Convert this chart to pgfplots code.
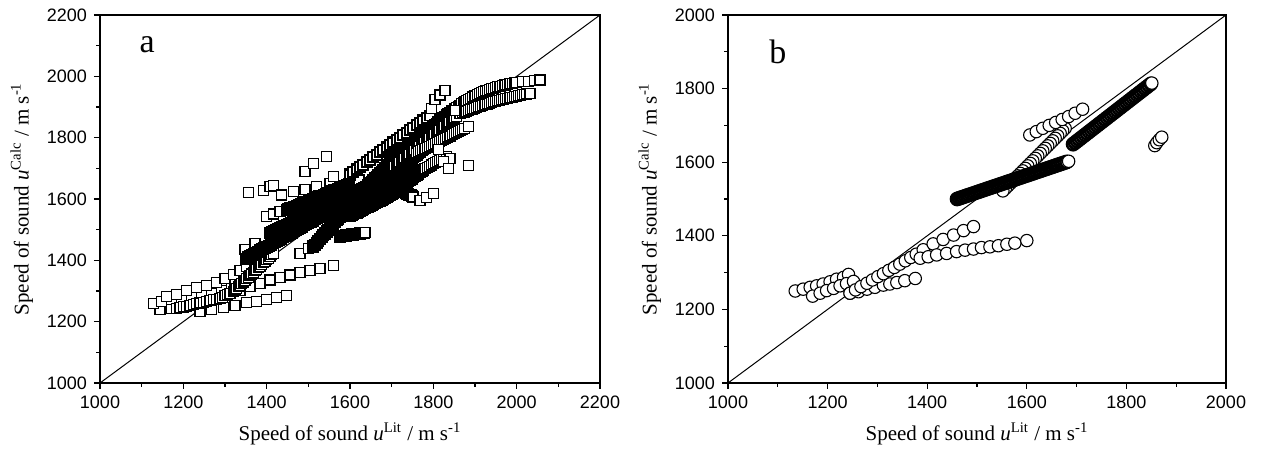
\documentclass[border=0pt]{standalone}
\usepackage{fontspec}
\setmainfont{Liberation Serif}
\newfontfamily\arial{Liberation Sans}
\usepackage{pgfplots}
\pgfplotsset{compat=1.18}

\pgfplotsset{
  panel/.style={
    scale only axis, height=184pt,
    axis line style={line width=0.7pt},
    tick pos=left, tick align=outside,
    major tick length=3pt, minor tick length=1.8pt,
    tick style={line width=0.6pt, black},
    minor x tick num=1, minor y tick num=1,
    /pgf/number format/assume math mode=true,
    /pgf/number format/1000 sep={},
    ticklabel style={font=\arial\fontsize{9}{10}\selectfont},
    label style={font=\fontsize{10.5}{12}\selectfont},
  },
  sq/.style={only marks, mark=square*, mark size=2.5pt,
    mark options={fill=white, draw=black, line width=0.55pt}},
  sqd/.style={sq, mark options={fill=white, draw=black, line width=1.1pt}},
  ci/.style={only marks, mark=*, mark size=3.1pt,
    mark options={fill=white, draw=black, line width=0.55pt}},
  cid/.style={ci, mark options={fill=white, draw=black, line width=1.2pt}},
}

\begin{document}
\begin{tikzpicture}

% ---------------- panel a ----------------
\begin{axis}[panel, at={(0,0)}, width=250pt,
  xmin=1000, xmax=2200, ymin=1000, ymax=2200,
  xtick={1000,1200,...,2200}, ytick={1000,1200,...,2200},
  xlabel={Speed of sound \textit{u}\textsuperscript{Lit} / m s\textsuperscript{-1}},
  ylabel={Speed of sound \textit{u}\textsuperscript{Calc} / m s\textsuperscript{-1}}]

\addplot[black, line width=0.5pt] coordinates {(1000,1000) (2200,2200)};

% lower-left rows
\addplot[sq] coordinates {(1144,1240) (1172,1243) (1200,1247) (1240,1233) (1268,1240) (1296,1247) (1324,1254) (1352,1262) (1376,1267) (1400,1273) (1424,1278) (1448,1286)};
\addplot[sq] coordinates {(1128,1258) (1148,1265) (1172,1273) (1196,1276) (1220,1282) (1244,1287) (1268,1292) (1292,1301) (1316,1308)};
\addplot[sq] coordinates {(1160,1282) (1184,1290) (1208,1301) (1232,1310) (1256,1318) (1280,1329) (1300,1340) (1320,1353) (1336,1366) (1352,1379)};
\addplot[sq] coordinates {(1312,1292) (1336,1303) (1360,1314) (1384,1325) (1408,1336) (1432,1345) (1456,1352) (1480,1360) (1504,1366) (1528,1374) (1560,1383)};

% S-shaped band
\addplot[sq] coordinates {(1184,1243) (1192,1245.5) (1200,1248.1) (1208,1250.6) (1216,1253.2) (1224,1255.7) (1232,1258.2) (1240,1260.8) (1248,1263.3) (1256,1265.8) (1264,1268.4) (1272,1270.9) (1280,1273.5) (1288,1276) (1294,1280.1) (1300,1284.3) (1306,1288.4) (1312,1292.5) (1320,1298) (1324,1303.2) (1328,1308.4) (1332,1313.6) (1336,1318.8) (1340,1324.0) (1344,1329.3) (1348,1334.5) (1352,1339.7) (1356,1344.9) (1360,1350.1) (1364,1355.3) (1368,1360.5) (1372,1365.7) (1376,1370.9) (1380,1376.1) (1384,1381.3) (1388,1386.6) (1392,1391.8) (1396,1397.0) (1400,1402.2) (1404,1407.4) (1408,1412.6) (1412,1417.8) (1416,1423)};

% scattered, upper left of centre
\addplot[sq] coordinates {(1348,1434) (1372,1456) (1480,1422) (1500,1439) (1356,1621) (1392,1629) (1408,1640) (1416,1645) (1436,1613) (1464,1624) (1492,1632) (1520,1640) (1552,1651) (1560,1673) (1492,1689) (1512,1716) (1544,1738) (1400,1542) (1416,1551) (1432,1559) (1448,1564) (1596,1613) (1616,1629)};

% upper dense band on the left
\addplot[sqd] coordinates {(1452,1566.0) (1457,1568.8) (1462,1571.6) (1467,1574.4) (1472,1577.2) (1477,1580.0) (1482,1582.8) (1487,1585.6) (1492,1588.4) (1497,1591.2) (1502,1594.0) (1507,1596.8) (1512,1599.6) (1517,1602.4) (1522,1605.2) (1527,1608.0) (1532,1610.8) (1537,1613.6) (1542,1616.4) (1547,1619.2) (1552,1622.0) (1557,1624.8) (1562,1627.6) (1567,1630.4) (1572,1633.2) (1577,1636.0) (1582,1638.8) (1587,1641.6) (1592,1644.4) (1597,1647.2) (1602,1650.0) (1607,1652.8) (1612,1655.6) (1617,1658.4) (1622,1661.2)};

% dense band 1
\addplot[sqd] coordinates {(1350,1405.0) (1355,1408.9) (1360,1412.8) (1365,1416.7) (1370,1420.6) (1375,1424.5) (1380,1428.4) (1385,1432.3) (1390,1436.2) (1395,1440.1) (1400,1444.0) (1405,1447.9) (1410,1451.8) (1415,1455.7) (1420,1459.6) (1425,1463.5) (1430,1467.4) (1435,1471.3) (1440,1475.2) (1445,1479.1) (1450,1483.0) (1455,1486.9) (1460,1490.8) (1465,1494.7) (1470,1498.6) (1475,1502.5) (1480,1506.4) (1485,1510.3) (1490,1514.2) (1495,1518.1) (1500,1522.0) (1505,1525.9) (1510,1529.8) (1515,1533.7) (1520,1537.6) (1525,1541.5) (1530,1545.4) (1535,1549.3) (1540,1553.2) (1545,1557.1) (1550,1561.0) (1555,1564.9) (1560,1568.8) (1565,1572.7) (1570,1576.6) (1575,1580.5) (1580,1584.4) (1585,1588.3) (1590,1592.2) (1595,1596.1) (1600,1600.0)};

% dense band 2
\addplot[sqd] coordinates {(1408,1490.0) (1413,1493.2) (1418,1496.5) (1423,1499.7) (1428,1502.9) (1433,1506.2) (1438,1509.4) (1443,1512.6) (1448,1515.8) (1453,1519.1) (1458,1522.3) (1463,1525.5) (1468,1528.8) (1473,1532.0) (1478,1535.2) (1483,1538.5) (1488,1541.7) (1493,1544.9) (1498,1548.1) (1503,1551.4) (1508,1554.6) (1513,1557.8) (1518,1561.1) (1523,1564.3) (1528,1567.5) (1533,1570.8) (1538,1574.0) (1543,1577.2) (1548,1580.4) (1553,1583.7) (1558,1586.9) (1563,1590.1) (1568,1593.4) (1573,1596.6) (1578,1599.8) (1583,1603.1) (1588,1606.3) (1593,1609.5) (1598,1612.7) (1603,1616.0) (1608,1619.2) (1613,1622.4) (1618,1625.7) (1623,1628.9) (1628,1632.1) (1633,1635.4) (1638,1638.6)};

% short flat band
\addplot[sqd] coordinates {(1576,1478) (1579,1478.6) (1582,1479.2) (1585,1479.8) (1588,1480.4) (1591,1481) (1594,1481.6) (1597,1482.2) (1600,1482.8) (1603,1483.4) (1606,1484) (1609,1484.6) (1612,1485.2) (1615,1485.8) (1618,1486.4) (1621,1487) (1624,1487.6) (1627,1488.2) (1630,1488.8) (1633,1489.4)};
\addplot[sq] coordinates {(1636,1490)};

% upper edge of main band
\addplot[sqd] coordinates {(1600,1680) (1608,1688) (1616,1696) (1624,1704) (1632,1712) (1640,1720) (1648,1728) (1656,1736) (1664,1744) (1672,1752) (1680,1760) (1688,1768) (1696,1776) (1704,1784) (1712,1792) (1720,1800) (1728,1808) (1736,1816) (1744,1824) (1752,1832) (1760,1840) (1768,1848) (1776,1856) (1784,1864)};
\addplot[sq] coordinates {(1792,1872)};

% band between main band and lower right band
\addplot[sqd] coordinates {(1640,1600) (1644,1605) (1648,1610) (1652,1615) (1656,1620) (1660,1625) (1664,1630) (1668,1635) (1672,1640) (1676,1645) (1680,1650) (1684,1655) (1688,1660) (1692,1665) (1696,1670) (1700,1675) (1704,1680) (1708,1685) (1712,1690) (1716,1695) (1720,1700)
(1724,1704.5) (1728,1709) (1732,1713.5) (1736,1718) (1740,1722.5) (1744,1727) (1748,1731.5) (1752,1736) (1756,1740.5) (1760,1745) (1764,1749.5) (1768,1754) (1772,1758.5) (1776,1763) (1780,1767.5) (1784,1772) (1788,1776.5) (1792,1781) (1796,1785.5) (1800,1790)
(1804,1794) (1808,1798) (1812,1802) (1816,1806) (1820,1810) (1824,1814) (1828,1818) (1832,1822) (1836,1826) (1840,1830) (1844,1834) (1848,1838)};

% main steep band
\addplot[sqd] coordinates {(1512,1445.0) (1516,1451.1) (1520,1457.2) (1524,1463.3) (1528,1469.4) (1532,1475.5) (1536,1481.6) (1540,1487.7) (1544,1493.8) (1548,1499.8) (1552,1505.9) (1556,1512.0) (1560,1518.1) (1564,1524.2) (1568,1530.3) (1572,1536.4) (1576,1542.5) (1580,1548.6) (1584,1554.7) (1588,1560.8) (1592,1566.9) (1596,1573.0) (1600,1579.1) (1604,1585.2) (1608,1591.3) (1612,1597.4) (1616,1603.4) (1620,1609.5) (1624,1615.6) (1628,1621.7) (1632,1627.8) (1636,1633.9) (1640,1640.0)
(1644,1645.5) (1648,1650.9) (1652,1656.4) (1656,1661.8) (1660,1667.3) (1664,1672.7) (1668,1678.2) (1672,1683.6) (1676,1689.1) (1680,1694.5) (1684,1700.0) (1688,1705.4) (1692,1710.9) (1696,1716.3) (1700,1721.8) (1704,1727.2) (1708,1732.7) (1712,1738.1) (1716,1743.6) (1720,1749.0)
(1724,1753.4) (1728,1757.7) (1732,1762.1) (1736,1766.4) (1740,1770.8) (1744,1775.1) (1748,1779.5) (1752,1783.8) (1756,1788.2) (1760,1792.5) (1764,1796.9) (1768,1801.2) (1772,1805.6) (1776,1809.9) (1780,1814.3) (1784,1818.6) (1788,1823.0) (1792,1827.3) (1796,1831.7) (1800,1836.0)
(1804,1840.5) (1808,1845.0) (1812,1849.5) (1816,1854.0) (1820,1858.5) (1824,1863.0) (1828,1867.5) (1832,1872.0) (1836,1876.5) (1840,1881.0) (1844,1885.5)};
% its upper arc
\addplot[sq] coordinates {(1848,1890.0) (1852,1894) (1856,1898) (1860,1902) (1864,1906) (1868,1910) (1872,1914) (1876,1918) (1880,1922)
(1885,1925.5) (1890,1929) (1895,1932.5) (1900,1936) (1905,1939.5) (1910,1943) (1915,1946.5) (1920,1950)
(1925,1952.3) (1930,1954.5) (1935,1956.8) (1940,1959) (1945,1961.3) (1950,1963.5) (1955,1965.8) (1960,1968)
(1966,1969.8) (1972,1971.6) (1978,1973.4) (1984,1975.2) (1990,1977) (1996,1978.8) (2000,1980)
(2014,1982) (2028,1984) (2042,1986) (2056,1988)};

% lower arc
\addplot[sqd] coordinates {(1700,1700) (1706,1706.5) (1712,1713.1) (1718,1719.6) (1724,1726.2) (1730,1732.7) (1736,1739.3) (1742,1745.8) (1748,1752.4) (1754,1758.9) (1760,1765.5) (1766,1772.0) (1772,1778.6) (1778,1785.1) (1784,1791.7) (1790,1798.2) (1796,1804.8) (1802,1811.3) (1808,1817.9) (1814,1824.4) (1820,1831.0) (1826,1837.5) (1832,1844.1) (1838,1850.6) (1844,1857.2) (1850,1863.7)};
\addplot[sq] coordinates {(1856,1870.3) (1864,1879)
(1869,1881.4) (1874,1883.8) (1879,1886.1) (1884,1888.5) (1889,1890.9) (1894,1893.3) (1899,1895.6) (1904,1898) (1909,1900.4) (1914,1902.8) (1919,1905.1) (1924,1907.5) (1929,1909.9) (1934,1912.3) (1939,1914.6) (1944,1917)
(1949,1918.6) (1954,1920.2) (1959,1921.8) (1964,1923.4) (1969,1925) (1974,1926.5) (1979,1928.1) (1984,1929.7) (1989,1931.3) (1994,1932.9) (1999,1934.5) (2004,1936.1) (2009,1937.7) (2014,1939.3) (2019,1940.9) (2024,1942.5) (2032,1945)};

% lower right band
\addplot[sqd] coordinates {(1600,1545.0) (1604,1547.8) (1608,1550.6) (1612,1553.4) (1616,1556.2) (1620,1558.9) (1624,1561.7) (1628,1564.5) (1632,1567.3) (1636,1570.1) (1640,1572.9) (1644,1575.7) (1648,1578.5) (1652,1581.3) (1656,1584.1) (1660,1586.9) (1664,1589.7) (1668,1592.4) (1672,1595.2) (1676,1598.0) (1680,1600.8) (1684,1603.6) (1688,1606.4) (1692,1609.2) (1696,1612.0)
(1700,1616.2) (1704,1620.4) (1708,1624.6) (1712,1628.8) (1716,1633.0) (1720,1637.1) (1724,1641.3) (1728,1645.5) (1732,1649.7) (1736,1653.9) (1740,1658.1) (1744,1662.3) (1748,1666.5) (1752,1670.7) (1756,1674.9) (1760,1679.0) (1764,1683.2) (1768,1687.4) (1772,1691.6) (1776,1695.8)};
\addplot[sq] coordinates {(1780,1700.0) (1785,1703.7) (1790,1707.3) (1795,1711.0) (1800,1714.6) (1805,1718.3) (1810,1721.9) (1815,1725.6) (1820,1729.2) (1825,1732.9) (1832,1738)};

% middle arc
\addplot[sq] coordinates {(1760,1750) (1765,1753.5) (1770,1756.9) (1775,1760.4) (1780,1763.9) (1785,1767.4) (1790,1770.8) (1795,1774.3) (1800,1777.8) (1805,1781.2) (1810,1784.7) (1815,1788.2) (1820,1791.6) (1825,1795.1) (1830,1798.6) (1835,1802.0) (1840,1805.5) (1845,1809.0) (1850,1812.4) (1855,1815.9) (1860,1819.4) (1865,1822.8) (1870,1826.3) (1875,1829.8) (1884,1836)};

% small cluster and scattered points on the right
\addplot[sqd] coordinates {(1728,1625) (1731,1623) (1734,1621) (1737,1618) (1740,1616) (1743,1614) (1746,1612) (1749,1609) (1752,1607)};
\addplot[sq] coordinates {(1768,1595) (1784,1605) (1800,1617) (1796,1896) (1804,1923) (1816,1939) (1828,1955) (1852,1890) (1812,1760) (1840,1733) (1824,1722) (1836,1700) (1884,1708)};

\node[font=\fontsize{17}{17}\selectfont] at (axis cs:1113,2102) {a};
\end{axis}

% ---------------- panel b ----------------
\begin{axis}[panel, at={(314pt,0)}, width=249pt,
  xmin=1000, xmax=2000, ymin=1000, ymax=2000,
  xtick={1000,1200,...,2000}, ytick={1000,1200,...,2000},
  xlabel={Speed of sound \textit{u}\textsuperscript{Lit} / m s\textsuperscript{-1}},
  ylabel={Speed of sound \textit{u}\textsuperscript{Calc} / m s\textsuperscript{-1}}]

\addplot[black, line width=0.5pt] coordinates {(1000,1000) (2000,2000)};

\addplot[ci] coordinates {(1135,1250) (1151,1255) (1165,1260) (1178,1264) (1191,1269) (1205,1275) (1218,1282) (1232,1287) (1242,1295)};
\addplot[ci] coordinates {(1170,1236) (1185,1244) (1198,1251) (1212,1257) (1225,1264) (1238,1270) (1252,1276)};
\addplot[ci] coordinates {(1245,1244) (1262,1248) (1279,1255) (1295,1260) (1312,1266) (1325,1269) (1339,1273) (1355,1278) (1376,1284)};
\addplot[ci] coordinates {(1245,1244) (1256,1253) (1267,1262) (1279,1271) (1290,1280) (1301,1289) (1312,1297) (1323,1306) (1334,1314) (1345,1323) (1356,1332) (1367,1341) (1378,1350) (1392,1362) (1412,1378) (1432,1390) (1453,1402) (1473,1414) (1493,1425)};
\addplot[ci] coordinates {(1386,1339) (1402,1343) (1419,1348) (1439,1352) (1459,1357) (1476,1361) (1493,1364) (1509,1368) (1526,1370) (1543,1373) (1560,1377) (1576,1380) (1600,1387)};

% steep series
\addplot[ci] coordinates {(1677,1692.0) (1672,1685.2) (1667,1678.4) (1662,1671.6) (1657,1664.8) (1652,1658.0) (1647,1651.2) (1642,1644.4) (1637,1637.6) (1632,1630.8) (1627,1624.0) (1622,1617.2) (1617,1610.4) (1612,1603.6) (1607,1596.8) (1602,1590.0) (1597,1583.2) (1592,1576.4) (1587,1569.6) (1582,1562.8) (1577,1556.0) (1572,1549.2) (1567,1542.4) (1562,1535.6) (1557,1528.8) (1552,1522.0)};
\addplot[ci] coordinates {(1606,1674) (1619,1683) (1632,1692) (1645,1700) (1658,1708) (1671,1716) (1684,1724) (1697,1733) (1712,1744)};

% dense bands
\addplot[cid] coordinates {(1460,1500.0) (1464,1501.8) (1468,1503.7) (1472,1505.5) (1476,1507.3) (1480,1509.2) (1484,1511.0) (1488,1512.8) (1492,1514.6) (1496,1516.5) (1500,1518.3) (1504,1520.1) (1508,1522.0) (1512,1523.8) (1516,1525.6) (1520,1527.5) (1524,1529.3) (1528,1531.1) (1532,1533.0) (1536,1534.8) (1540,1536.6) (1544,1538.5) (1548,1540.3) (1552,1542.1) (1556,1543.9) (1560,1545.8) (1564,1547.6) (1568,1549.4) (1572,1551.3) (1576,1553.1) (1580,1554.9) (1584,1556.8) (1588,1558.6) (1592,1560.4) (1596,1562.3) (1600,1564.1) (1604,1565.9) (1608,1567.7) (1612,1569.6) (1616,1571.4) (1620,1573.2) (1624,1575.1) (1628,1576.9) (1632,1578.7) (1636,1580.6) (1640,1582.4) (1644,1584.2) (1648,1586.1) (1652,1587.9) (1656,1589.7) (1660,1591.6) (1664,1593.4) (1668,1595.2) (1672,1597.0) (1676,1598.9) (1680,1600.7)};
\addplot[ci] coordinates {(1684,1602.5)};
\addplot[cid] coordinates {(1693,1649.0) (1697,1653.2) (1701,1657.4) (1705,1661.6) (1709,1665.8) (1713,1670.0) (1717,1674.2) (1721,1678.4) (1725,1682.6) (1729,1686.8) (1733,1691.0) (1737,1695.2) (1741,1699.4) (1745,1703.6) (1749,1707.8) (1753,1712.0) (1757,1716.2) (1761,1720.4) (1765,1724.6) (1769,1728.8) (1773,1733.0) (1777,1737.2) (1781,1741.4) (1785,1745.6) (1789,1749.8) (1793,1754.0) (1797,1758.2) (1801,1762.4) (1805,1766.6) (1809,1770.8) (1813,1775.0) (1817,1779.2) (1821,1783.4) (1825,1787.6) (1829,1791.8) (1833,1796.0) (1837,1800.2) (1841,1804.4) (1845,1808.6) (1849,1812.8)};
\addplot[ci] coordinates {(1851,1815)};

\addplot[ci] coordinates {(1857,1645) (1861,1653) (1866,1661) (1871,1668)};

\node[font=\fontsize{17}{17}\selectfont] at (axis cs:1100,1899) {b};
\end{axis}

\pgfresetboundingbox
\path[use as bounding box] (-50pt,-38pt) rectangle (582.5pt,191.5pt);
\end{tikzpicture}
\end{document}
